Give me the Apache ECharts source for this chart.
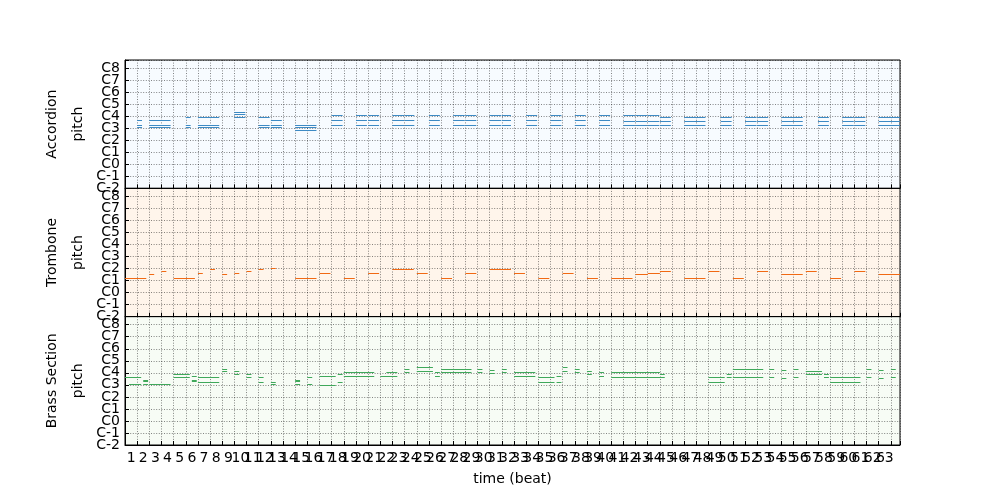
<!DOCTYPE html>
<html>
<head>
<meta charset="utf-8">
<script src="https://cdn.jsdelivr.net/npm/echarts@6/dist/echarts.min.js"></script>
<style>html,body{margin:0;padding:0;background:#fff}#c{width:1000px;height:500px}</style>
</head>
<body>
<div id="c"></div>
<script>
// ---------- data ----------
const trackNames = ['Accordion', 'Trombone', 'Brass Section'];
const pitchLabels = ['C-2','C-1','C0','C1','C2','C3','C4','C5','C6','C7','C8'];
const beatLabels = ['1','2','3','4','5','6','7','8','9','10','11','12','13','14','15','16','17','18','19','20',
  '21','22','23','24','25','26','27','28','29','30','31','32','33','34','35','36','37','38','39','40',
  '41','42','43','44','45','46','47','48','49','50','51','52','53','54','55','56','57','58','59','60',
  '61','62','63'];
const totalBeats = 63.75;

// [start beat, end beat, [pitches]]
const accordionNotes = [
  [1, 1.4, [61,63,68]], [2, 3.75, [61,63,68]], [5, 5.4, [61,63,71]], [6, 7.75, [61,63,71]],
  [9, 9.9, [71,74,76]], [11, 11.9, [61,63,71]], [12, 12.9, [61,63,68]], [14, 15.75, [58,61,63]],
  [17, 17.9, [63,68,73]], [19, 19.9, [63,68,73]], [20, 20.9, [63,68,73]], [22, 22.95, [63,68,73]],
  [23, 23.8, [63,68,73]], [25, 25.9, [63,68,73]], [27, 27.95, [63,68,73]], [28, 28.9, [63,68,73]],
  [30, 30.95, [63,68,73]], [31, 31.75, [63,68,73]], [33, 33.9, [63,68,73]], [35, 35.9, [63,68,73]],
  [37, 37.9, [63,68,73]], [39, 39.9, [63,68,73]], [41, 41.95, [63,67,73]], [42, 42.95, [63,67,73]],
  [43, 43.95, [63,67,73]], [44, 44.9, [63,67,71]], [46, 47.75, [63,67,71]], [49, 49.9, [63,67,71]],
  [51, 51.95, [63,67,71]], [52, 52.9, [63,67,71]], [54, 55.75, [63,67,71]], [57, 57.9, [63,67,71]],
  [59, 59.95, [63,67,71]], [60, 60.9, [63,67,71]], [62, 63.75, [63,67,71]]
];
const tromboneNotes = [
  [0, 1.75, [38]], [2, 2.4, [42]], [3, 3.4, [45]], [4, 5.75, [38]], [6, 6.4, [43]], [7, 7.4, [47]],
  [8, 8.4, [42]], [9, 9.4, [43]], [10, 10.4, [45]], [11, 11.4, [47]], [12, 12.4, [48]],
  [14, 15.75, [38]], [16, 16.9, [43]], [18, 18.9, [38]], [20, 20.9, [43]], [22, 23.75, [47]],
  [24, 24.9, [43]], [26, 26.9, [38]], [28, 28.9, [43]], [30, 31.75, [47]], [32, 32.9, [43]],
  [34, 34.9, [38]], [36, 36.9, [43]], [38, 38.9, [38]], [40, 41.75, [38]], [42, 43, [42]],
  [43, 44, [43]], [44, 44.9, [45]], [46, 47.75, [38]], [48, 48.9, [45]], [50, 50.9, [38]],
  [52, 52.9, [45]], [54, 55.75, [42]], [56, 56.9, [45]], [58, 58.9, [38]], [60, 60.9, [45]],
  [62, 63.75, [42]]
];
const brassNotes = [
  [0, 1.33, [67]], [0.33, 1.33, [60]], [1.5, 1.9, [60,63,64]], [2, 3.75, [60]], [4, 5.33, [67,70]],
  [5.5, 5.9, [63,64,68]], [6, 7.75, [62,67]], [8, 8.4, [73,75]], [9, 9.4, [70,73]], [10, 10.4, [67,70]],
  [11, 11.4, [62,67]], [12, 12.4, [60,62]], [14, 14.4, [60,63,64]], [15, 15.4, [60,67]],
  [16, 17.33, [59,68]], [17.5, 17.9, [62,70]], [18, 20.5, [68,72]], [21, 22.4, [68]], [21.5, 22.4, [72]],
  [23, 23.4, [72,75]], [24, 25.33, [73,77]], [25.5, 25.9, [68,72]], [26, 28.5, [72,75]],
  [29, 29.4, [72,75]], [30, 30.4, [71,74]], [31, 31.4, [72,75]], [32, 33.75, [68,72]],
  [34, 35.33, [62,67]], [35.5, 35.9, [62,68]], [36, 36.4, [73,77]], [37, 37.4, [72,75]],
  [38, 38.4, [70,73]], [39, 39.4, [68,72]], [40, 44, [72]], [40, 44.4, [67]], [44, 44.4, [70]],
  [48, 49.33, [62,67]], [49.5, 49.9, [67,70]], [50, 52.5, [67,75]], [53, 53.4, [67,75]],
  [54, 54.4, [66,74]], [55, 55.4, [67,75]], [56, 57.33, [70,73]], [57.5, 57.9, [67,70]],
  [58, 60.5, [62,67]], [61, 61.4, [67,75]], [62, 62.4, [66,74]], [63, 63.4, [67,75]]
];

// ---------- styling ----------
const trackColors = ['#3d8ac4', '#f16913', '#3fa85a'];
const trackBgs = ['#f7fbff', '#fff5eb', '#f7fcf5'];
const FONT = 'DejaVu Sans';

function flatten(blocks) {
  const out = [];
  blocks.forEach(b => b[2].forEach(p => out.push([b[0], b[1], p])));
  return out;
}
const tracks = [accordionNotes, tromboneNotes, brassNotes].map(flatten);

const tops = [60, 188.33, 316.67];
const H = 128.33;
const gridLine = { color: 'rgba(0,0,0,0.6)', width: 0.8, type: [1, 1.6] };
const labelStyle = { fontSize: 14, color: '#000', fontFamily: FONT };

const grids = tops.map((t, i) => ({
  left: 125, right: 100, top: t, height: H, show: true,
  backgroundColor: trackBgs[i], borderColor: '#000', borderWidth: 1
}));

const xAxes = tops.map((t, i) => ({
  type: 'value', gridIndex: i, min: 0, max: totalBeats, interval: 1,
  axisLine: { show: true, onZero: false, lineStyle: { color: '#000', width: 1 } },
  axisTick: { show: true, inside: true, length: 4, lineStyle: { color: '#000', width: 1 } },
  splitLine: { show: true, lineStyle: gridLine },
  axisLabel: Object.assign({
    show: i === 2, margin: 6,
    padding: [0, 0, 0, 12.16], hideOverlap: false, showMinLabel: true, showMaxLabel: true,
    formatter: v => (Number.isInteger(v) && v < beatLabels.length) ? beatLabels[v] : ''
  }, labelStyle),
  name: i === 2 ? 'time (beat)' : '', nameLocation: 'middle', nameGap: 27,
  nameTextStyle: labelStyle
}));

const yAxes = [];
tops.forEach((t, i) => {
  // main pitch axis (C-1 .. C8 labels)
  yAxes.push({
    type: 'value', gridIndex: i, min: 0, max: 128, interval: 12, position: 'left',
    axisLine: { show: true, onZero: false, lineStyle: { color: '#000', width: 1 } },
    axisTick: { show: true, inside: true, length: 4, lineStyle: { color: '#000', width: 1 } },
    splitLine: { show: true, lineStyle: gridLine },
    axisLabel: Object.assign({
      margin: 5, showMinLabel: false, showMaxLabel: true, hideOverlap: false,
      formatter: v => (v % 12 === 0 && v > 0 && v / 12 < pitchLabels.length) ? pitchLabels[v / 12] : ''
    }, labelStyle),
    name: 'pitch', nameLocation: 'middle', nameGap: 34, nameRotate: 90,
    nameTextStyle: labelStyle
  });
  // companion axis: bottom label (C-2) and track name
  yAxes.push({
    type: 'value', gridIndex: i, min: 0, max: 128, interval: 128, position: 'left',
    axisLine: { show: false }, axisTick: { show: false }, splitLine: { show: false },
    axisLabel: Object.assign({
      margin: 5, showMinLabel: true, showMaxLabel: false,
      formatter: v => v === 0 ? pitchLabels[0] : ''
    }, labelStyle),
    name: trackNames[i], nameLocation: 'middle', nameGap: 66, nameRotate: 90,
    nameTextStyle: labelStyle
  });
});

function renderNote(params, api) {
  const a = api.coord([api.value(0), api.value(2) + 0.5]);
  const b = api.coord([api.value(1), api.value(2) - 0.5]);
  const y0 = Math.round(a[1]);
  const h = Math.max(1, Math.round(b[1]) - y0);
  return {
    type: 'rect',
    shape: { x: a[0], y: y0, width: b[0] - a[0], height: h },
    style: { fill: api.visual('color') }
  };
}

const series = tracks.map((data, i) => ({
  type: 'custom', name: trackNames[i], xAxisIndex: i, yAxisIndex: 2 * i,
  data: data, encode: { x: [0, 1], y: 2 }, renderItem: renderNote,
  itemStyle: { color: trackColors[i] }, clip: true, silent: true
}));

const chart = echarts.init(document.getElementById('c'));
chart.setOption({
  animation: false,
  textStyle: { fontFamily: FONT },
  grid: grids, xAxis: xAxes, yAxis: yAxes, series: series
});
</script>
</body>
</html>
